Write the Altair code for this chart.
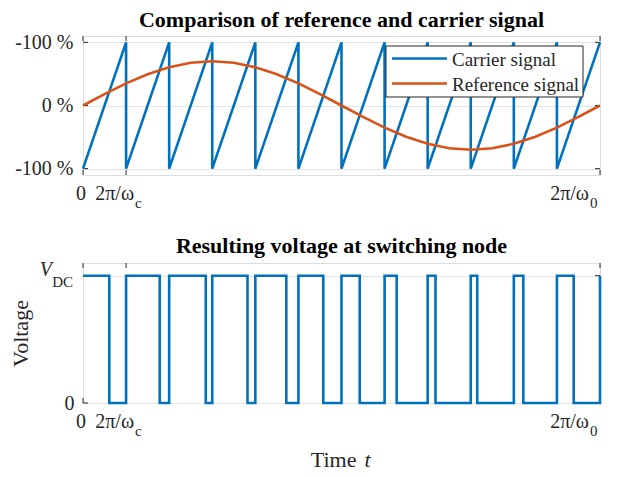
import altair as alt
import pandas as pd

# ---------------- data ----------------
# time axis in carrier periods (0 .. 12 = 2*pi/omega_0)
carrier_t = [0, 1, 1, 2, 2, 3, 3, 4, 4, 5, 5, 6, 6, 7, 7, 8, 8, 9, 9, 10, 10, 11, 11, 12]
carrier_v = [-1, 1, -1, 1, -1, 1, -1, 1, -1, 1, -1, 1, -1, 1, -1, 1, -1, 1, -1, 1, -1, 1, -1, 1]

ref_t = [0, 0.5, 1, 1.5, 2, 2.5, 3, 3.5, 4, 4.5, 5, 5.5, 6,
         6.5, 7, 7.5, 8, 8.5, 9, 9.5, 10, 10.5, 11, 11.5, 12]
ref_v = [0.0, 0.181, 0.350, 0.495, 0.606, 0.676, 0.700, 0.676, 0.606, 0.495, 0.350, 0.181, 0.0,
         -0.181, -0.350, -0.495, -0.606, -0.676, -0.700, -0.676, -0.606, -0.495, -0.350, -0.181, 0.0]

# switch-off instant inside each carrier period (output high from period start until then)
period_start = [0, 1, 2, 3, 4, 5, 6, 7, 8, 9, 10, 11]
switch_off = [0.61, 1.78, 2.849, 3.818, 4.719, 5.577, 6.423, 7.281, 8.182, 9.151, 10.22, 11.39]
period_end = [1, 2, 3, 4, 5, 6, 7, 8, 9, 10, 11, 12]

x_ticks = [0, 1, 12]
top_y_ticks = [-1, 0, 1]
bot_y_ticks = [0, 1]

series_names = ["Carrier signal", "Reference signal"]
series_colors = ["#0072BD", "#D95319"]

# ---------------- tables ----------------
rows = []
for i, (t, v) in enumerate(zip(carrier_t, carrier_v)):
    rows.append({"t": t, "v": v, "series": series_names[0], "i": i})
for i, (t, v) in enumerate(zip(ref_t, ref_v)):
    rows.append({"t": t, "v": v, "series": series_names[1], "i": i})
top_df = pd.DataFrame(rows)

pwm = [{"t": 0, "v": 1}]
for s, f, e in zip(period_start, switch_off, period_end):
    pwm += [{"t": f, "v": 1}, {"t": f, "v": 0}, {"t": e, "v": 0}, {"t": e, "v": 1}]
pwm_df = pd.DataFrame(pwm)
pwm_df["i"] = range(len(pwm_df))

W, H1, H2 = 517, 139, 140
FONT = "Liberation Serif"
DARK = "#262626"
LW = 2.6
TITLE_FS = 22

xscale = alt.Scale(domain=[0, 12], nice=False, zero=False)
xtick_df = pd.DataFrame({"t": x_ticks})


def x_axis():
    return alt.Axis(labels=False, ticks=False, domain=False, grid=False, title=None)


def inner_ticks(yscale, yticks, h):
    xt = alt.Chart(xtick_df)
    bot = xt.mark_rule(color=DARK, strokeWidth=1).encode(
        x=alt.X("t:Q", scale=xscale, axis=x_axis()), y=alt.value(h), y2=alt.value(h - 5))
    top = xt.mark_rule(color=DARK, strokeWidth=1).encode(
        x=alt.X("t:Q", scale=xscale, axis=x_axis()), y=alt.value(0), y2=alt.value(5))
    yt = alt.Chart(pd.DataFrame({"v": yticks}))
    left = yt.mark_rule(color=DARK, strokeWidth=1).encode(
        y=alt.Y("v:Q", scale=yscale), x=alt.value(0), x2=alt.value(5))
    right = yt.mark_rule(color=DARK, strokeWidth=1).encode(
        y=alt.Y("v:Q", scale=yscale), x=alt.value(W - 5), x2=alt.value(W))
    return [bot, top, left, right]


def x_labels(h):
    base = alt.Chart(xtick_df)
    yb = h + 25
    zero = base.transform_filter("datum.t == 0").mark_text(
        font=FONT, fontSize=20, color=DARK, align="center", baseline="alphabetic", dx=-2
    ).encode(x=alt.X("t:Q", scale=xscale), y=alt.value(yb), text=alt.value("0"))
    c_main = base.transform_filter("datum.t == 1").mark_text(
        font=FONT, fontSize=20, color=DARK, align="right", baseline="alphabetic", dx=8
    ).encode(x=alt.X("t:Q", scale=xscale), y=alt.value(yb), text=alt.value("2π/ω"))
    c_sub = base.transform_filter("datum.t == 1").mark_text(
        font=FONT, fontSize=15, color=DARK, align="left", baseline="alphabetic", dx=9
    ).encode(x=alt.X("t:Q", scale=xscale), y=alt.value(yb + 8), text=alt.value("c"))
    o_main = base.transform_filter("datum.t == 12").mark_text(
        font=FONT, fontSize=20, color=DARK, align="right", baseline="alphabetic", dx=-11
    ).encode(x=alt.X("t:Q", scale=xscale), y=alt.value(yb), text=alt.value("2π/ω"))
    o_sub = base.transform_filter("datum.t == 12").mark_text(
        font=FONT, fontSize=15, color=DARK, align="left", baseline="alphabetic", dx=-10
    ).encode(x=alt.X("t:Q", scale=xscale), y=alt.value(yb + 8), text=alt.value("0"))
    return [zero, c_main, c_sub, o_main, o_sub]


# ---------------- top panel ----------------
yscale_top = alt.Scale(domain=[-1.1, 1.1], nice=False, zero=False)
top_lines = alt.Chart(top_df).mark_line(strokeWidth=LW, interpolate="linear").encode(
    x=alt.X("t:Q", scale=xscale, axis=x_axis()),
    y=alt.Y("v:Q", scale=yscale_top,
            axis=alt.Axis(values=top_y_ticks, grid=True, gridColor="#e3e3e3", ticks=False, tickSize=0,
                          domain=False, labelPadding=10, title=None,
                          labelFont=FONT, labelFontSize=20, labelColor=DARK,
                          labelExpr="datum.value == 0 ? '0 %' : '-100 %'")),
    color=alt.Color("series:N", scale=alt.Scale(domain=series_names, range=series_colors), legend=None),
    detail="series:N",
    order="i:Q",
)

# legend drawn as a boxed key in the upper right of the top panel
leg_df = pd.DataFrame({"series": series_names, "row": [0, 1]})
LX0, LX1, LY0, LY1 = 303, 500, 10, 61
leg_box = alt.Chart(leg_df.head(1)).mark_rect(fill="white", stroke=DARK, strokeWidth=1).encode(
    x=alt.value(LX0), x2=alt.value(LX1), y=alt.value(LY0), y2=alt.value(LY1))
leg_lines = []
leg_texts = []
for r, (name, col) in enumerate(zip(series_names, series_colors)):
    yy = 22.5 + 25 * r
    sub = alt.Chart(leg_df).transform_filter(alt.datum.series == name)
    leg_lines.append(sub.mark_rule(color=col, strokeWidth=LW).encode(
        x=alt.value(309), x2=alt.value(364), y=alt.value(yy)))
    leg_texts.append(sub.mark_text(font=FONT, fontSize=19, color=DARK, align="left",
                                   baseline="middle", dy=1).encode(
        x=alt.value(369), y=alt.value(yy), text="series:N"))

top = alt.layer(*inner_ticks(yscale_top, top_y_ticks, H1), top_lines, *x_labels(H1),
                leg_box, *leg_lines, *leg_texts).properties(
    width=W, height=H1,
    title=alt.TitleParams("Comparison of reference and carrier signal", font=FONT, fontSize=TITLE_FS,
                          fontWeight="bold", color="black", offset=0, anchor="middle"),
)

# ---------------- bottom panel ----------------
yscale_bot = alt.Scale(domain=[0, 1.1], nice=False, zero=False)
pwm_line = alt.Chart(pwm_df).mark_line(strokeWidth=LW, color="#0072BD").encode(
    x=alt.X("t:Q", scale=xscale, axis=x_axis()),
    y=alt.Y("v:Q", scale=yscale_bot,
            axis=alt.Axis(values=bot_y_ticks, grid=True, gridColor="#e3e3e3", ticks=False, tickSize=0,
                          domain=False, labelPadding=9, labelFont=FONT, labelFontSize=20,
                          labelColor=DARK,
                          labelExpr="datum.value == 0 ? '0' : ''",
                          title="Voltage", titleFont=FONT, titleFontSize=22, titleFontWeight="normal",
                          titleColor=DARK, titlePadding=32)),
    order="i:Q",
)

vdc_v = alt.Chart(pd.DataFrame({"v": [1]})).mark_text(
    font=FONT, fontSize=20, fontStyle="italic", color=DARK, align="right", baseline="alphabetic"
).encode(x=alt.value(-31), y=alt.Y("v:Q", scale=yscale_bot), text=alt.value("V"))
vdc_sub = alt.Chart(pd.DataFrame({"v": [1]})).mark_text(
    font=FONT, fontSize=15, color=DARK, align="right", baseline="alphabetic", dy=11
).encode(x=alt.value(-10), y=alt.Y("v:Q", scale=yscale_bot), text=alt.value("DC"))

time_main = alt.Chart(pd.DataFrame({"v": [0]})).mark_text(
    font=FONT, fontSize=22, color=DARK, align="right", baseline="alphabetic"
).encode(x=alt.value(W / 2 + 15), y=alt.value(H2 + 64), text=alt.value("Time"))
time_t = alt.Chart(pd.DataFrame({"v": [0]})).mark_text(
    font=FONT, fontSize=22, fontStyle="italic", color=DARK, align="left", baseline="alphabetic"
).encode(x=alt.value(W / 2 + 23), y=alt.value(H2 + 64), text=alt.value("t"))

bottom = alt.layer(*inner_ticks(yscale_bot, bot_y_ticks, H2), pwm_line, vdc_v, vdc_sub,
                   *x_labels(H2), time_main, time_t).properties(
    width=W, height=H2,
    title=alt.TitleParams("Resulting voltage at switching node", font=FONT, fontSize=TITLE_FS,
                          fontWeight="bold", color="black", offset=2, anchor="middle"),
)

chart = alt.vconcat(top, bottom, spacing=22).properties(padding=0).configure_view(
    stroke=DARK, strokeWidth=1
).configure_axis(
    labelFont=FONT, labelFontSize=20, labelColor=DARK
).configure(background="white")

chart.save("out.html", embed_options={"renderer": "svg", "actions": False})
